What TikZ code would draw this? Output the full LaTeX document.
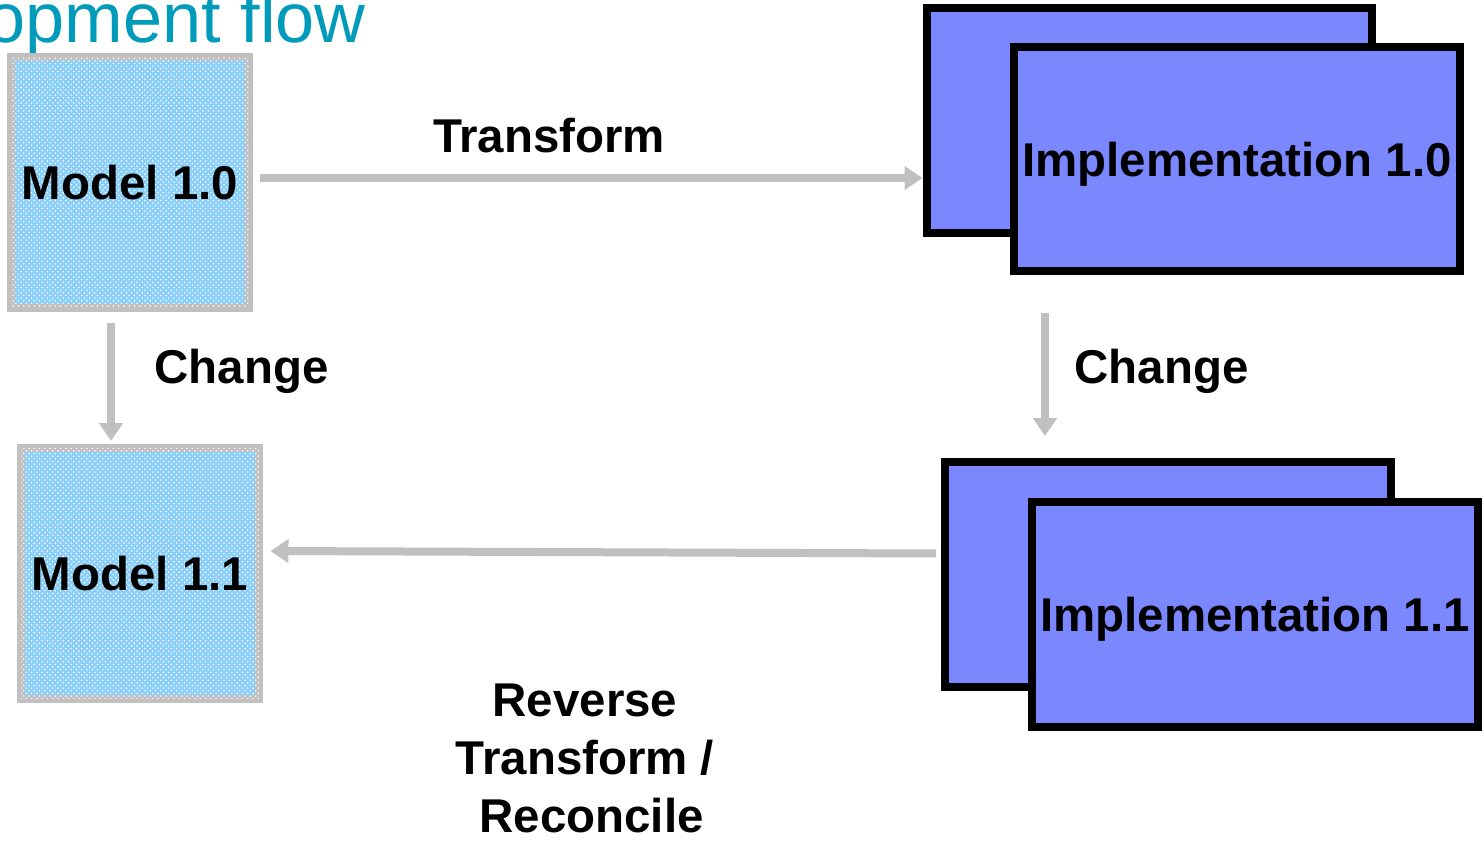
\documentclass[tikz,border=0pt]{standalone}
\usepackage{fontspec}
\setmainfont{Liberation Sans}
\usetikzlibrary{calc}
\usetikzlibrary{arrows.meta}
\usetikzlibrary{patterns}
\definecolor{titleteal}{RGB}{0,155,187}
\definecolor{implblue}{RGB}{122,135,255}
\definecolor{modelblue}{RGB}{138,206,250}
\definecolor{flowgrey}{RGB}{192,192,192}

\begin{document}
\begin{tikzpicture}[x=0.02cm,y=-0.02cm,
		bigfont/.style={font=\fontsize{27}{33}\selectfont\bfseries},
		model/.style={bigfont,draw=flowgrey,line width=0.16cm,fill=modelblue,
			postaction={pattern=crosshatch dots,pattern color=white},
			minimum width=4.76cm,minimum height=5.02cm,inner sep=0pt},
		impl/.style={bigfont,draw=black,line width=0.16cm,fill=implblue,
			minimum width=8.92cm,minimum height=4.5cm,inner sep=0pt,text depth=0pt},
		flow/.style={draw=flowgrey,line width=0.16cm,-{Triangle[width=0.46cm,length=0.36cm]}},
		lbl/.style={bigfont,inner sep=0pt,text depth=0pt}]
%		\draw[very thin,densely dashed] (0,0) grid[step=100] (1482,841);
		\clip (0,0) rectangle (1482,841);
		\node [anchor=base east,text=titleteal,font=\fontsize{40}{44}\selectfont] (title)
		at (372,43) {Development flow};
		% models
		\node [model] (m10) at (130,182.5) {Model 1.0};
		\node [model] (m11) at (140,573.5) {Model 1.1};
		% implementations, two sheets each
		\node [impl] (i10b) at (1149.5,120.5) {};
		\node [impl] (i10f) at (1237,159) {Implementation 1.0};
		\node [impl] (i11b) at (1168,574.5) {};
		\node [impl] (i11f) at (1255,614.5) {Implementation 1.1};
		% arrows
		\draw [flow] ($(m10.east)+(7,-4.5)$) coordinate (t0)
		-- (t0 -| i10b.west);
		\draw [flow,shorten >=0.06cm] ($(m10.south)+(-19,11)$) coordinate (c0)
		-- (c0 |- m11.north);
		\draw [flow,shorten >=0.44cm] ($(i10f.south)+(-192,38)$) coordinate (c1)
		-- (c1 |- i11b.north);
		\draw [flow] ($(i11b.west)+(-5,-21)$) -- ($(m11.east)+(7.5,-22.5)$);
		% labels
		\node [lbl] (transform) at (549,135) {Transform};
		\node [lbl] (change0) at (241.5,366) {Change};
		\node [lbl] (change1) at (1161.5,366) {Change};
		\node [lbl,align=center] (reverse) at (585,758)
		{Reverse\\Transform /\\\ Reconcile};
	\end{tikzpicture}
\end{document}
